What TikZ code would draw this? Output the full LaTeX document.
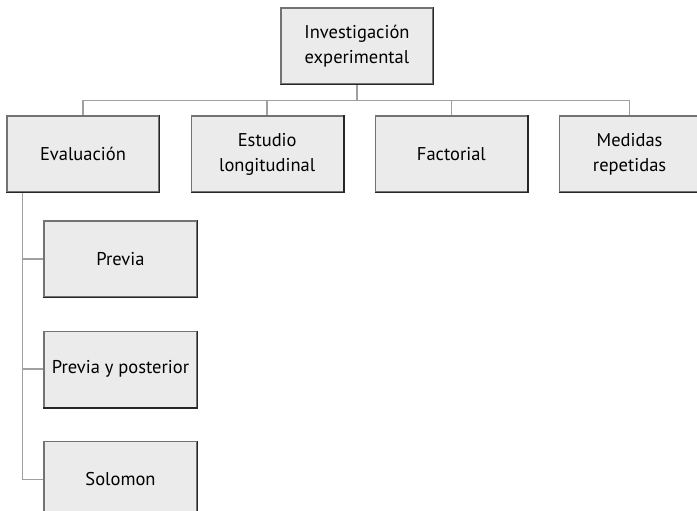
\documentclass[tikz,border=0pt]{standalone}
\usepackage{fontspec}
\setmainfont{PT Sans}
\usetikzlibrary{positioning}
\definecolor{boxfill}{HTML}{EBEBEB}
\definecolor{linkgray}{HTML}{A0A0A0}

\begin{document}
\begin{tikzpicture}[x=1pt, y=1pt, node distance=31pt,
        box/.style={draw=black!55, fill=boxfill, line width=1.2pt, minimum width=152pt,
            minimum height=76pt, align=center, font=\fontsize{18.5}{25}\selectfont, inner sep=2pt},
        edge/.style={draw=black!85, line width=1.4pt},
        link/.style={draw=linkgray, line width=1.6pt}]
        \useasboundingbox (0,0) rectangle (697,-511);
        \clip (0,0) rectangle (697,-511);
        \node[box] (inv) at (357,-46) {Investigación\\experimental};
        \node[box] (evaluacion) at (83,-154) {Evaluación};
        \node[box, right=of evaluacion] (estudio) {Estudio\\longitudinal};
        \node[box, right=of estudio] (factorial) {Factorial};
        \node[box, right=of factorial, minimum width=140pt] (medidas) {Medidas\\repetidas};
        \node[box, minimum width=153pt] (previa) at (120.5,-259) {Previa};
        \node[box, minimum width=153pt, below=33pt of previa] (pyp) {Previa y posterior};
        \node[box, minimum width=153pt, below=33pt of pyp] (solomon) {Solomon};
        % connectors
        \foreach \n in {evaluacion, estudio, factorial, medidas}
            \draw[link] (inv.south) -- ++(0,-16) -| (\n.north);
        \foreach \n in {previa, pyp, solomon}
            \draw[link] ([xshift=16pt]evaluacion.south west) |- (\n.west);
        % darker lower and right edges
        \foreach \n in {inv, evaluacion, estudio, factorial, medidas, previa, pyp, solomon}
            \draw[edge] (\n.north east) -- (\n.south east) -- (\n.south west);
\end{tikzpicture}
\end{document}
